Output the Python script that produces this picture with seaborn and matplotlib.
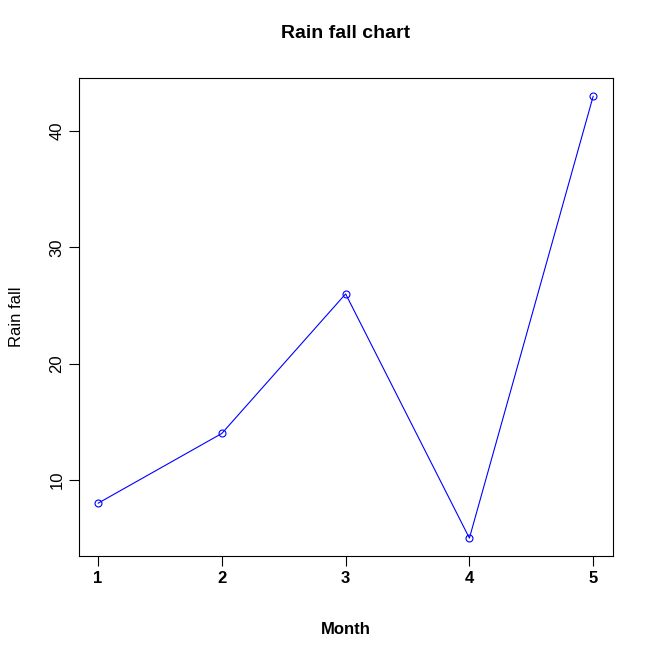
import matplotlib
matplotlib.use('Agg')
import matplotlib.pyplot as plt
import seaborn as sns

month = [1, 2, 3, 4, 5]
rain = [8, 14, 26, 5, 43]

sns.set_style('ticks')
plt.rcParams['font.family'] = ['Liberation Sans', 'DejaVu Sans']
plt.rcParams['text.color'] = 'black'
plt.rcParams['axes.labelcolor'] = 'black'

fig = plt.figure(figsize=(6.54, 6.54), dpi=100)
ax = fig.add_axes([0.1208, 0.1498, 0.8165, 0.7309])
sns.lineplot(x=month, y=rain, ax=ax, color='blue', linewidth=0.8,
             marker='o', markersize=5, markerfacecolor='none',
             markeredgecolor='blue', markeredgewidth=0.8)
ax.set_xlim(0.846, 5.16)
ax.set_ylim(3.46, 44.56)
ax.set_xticks(month)
ax.set_yticks([10, 20, 30, 40])
for s in ax.spines.values():
    s.set_visible(True)
    s.set_linewidth(0.8)
    s.set_color('black')
ax.tick_params(direction='out', length=7, width=0.8, labelsize=12, colors='black')
for t in ax.get_xticklabels():
    t.set_fontweight('bold')
for t in ax.get_yticklabels():
    t.set_rotation(90)
    t.set_va('center')
ax.set_xlabel('Month', fontsize=12, fontweight='bold', labelpad=26, color='black')
ax.set_ylabel('Rain fall', fontsize=12, labelpad=18, color='black')
ax.set_title('Rain fall chart', fontsize=14, fontweight='bold', pad=29, color='black')
fig.savefig('out.png', dpi=100)
